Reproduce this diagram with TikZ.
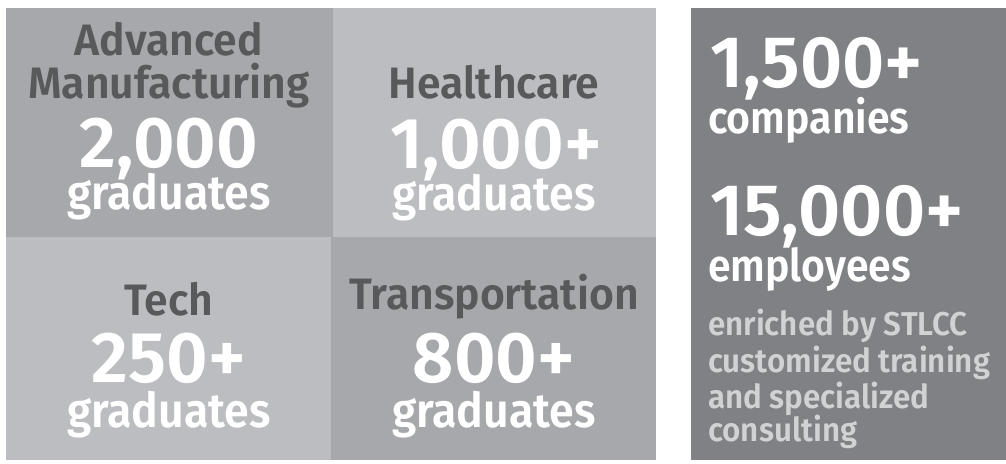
\documentclass[tikz,border=0pt]{standalone}
\usepackage{fontspec}
\setmainfont{Fira Sans}[BoldFont={Fira Sans SemiBold}]
\definecolor{cdark}{HTML}{A7A8AB}
\definecolor{clight}{HTML}{BCBDC0}
\definecolor{cpanel}{HTML}{808184}
\definecolor{ctext}{HTML}{58595B}
\definecolor{csmall}{HTML}{D1D2D4}
\begin{document}
\begin{tikzpicture}[x=1pt,y=1pt,
  lab/.style={anchor=base,inner sep=0pt,text=ctext,font=\bfseries\fontsize{44}{44}\selectfont\addfontfeature{FakeStretch=0.97}},
  num/.style={anchor=base,inner sep=0pt,text=white,font=\bfseries\fontsize{72}{72}\selectfont},
  grad/.style={anchor=base,inner sep=0pt,text=white,font=\bfseries\fontsize{48}{48}\selectfont\addfontfeature{FakeStretch=0.93}},
  rnum/.style={anchor=base west,inner sep=0pt,text=white,font=\bfseries\fontsize{73}{73}\selectfont},
  rword/.style={anchor=base west,inner sep=0pt,text=white,font=\bfseries\fontsize{45}{45}\selectfont\addfontfeature{FakeStretch=0.91}},
  rsmall/.style={anchor=base west,inner sep=0pt,text=csmall,font=\bfseries\fontsize{33}{33}\selectfont\addfontfeature{FakeStretch=0.95}}]
\useasboundingbox (0,0) rectangle (1006,-463);
\fill[white] (0,0) rectangle (1006,-463);
% quadrants
\fill[cdark]  (6,-8)   rectangle (333,-237);
\fill[clight] (333,-8) rectangle (656,-237);
\fill[clight] (6,-237) rectangle (331,-460);
\fill[cdark]  (331,-237) rectangle (656,-460);
\fill[cpanel] (691,-8) rectangle (1006,-460);
% top-left
\node[lab]  (tl1) at (169,-55)  {Advanced};
\node[lab]  (tl2) at (169,-98)  {Manufacturing};
\node[num]  (tl3) at (169,-167) {2,000};
\node[grad] (tl4) at (169,-209) {graduates};
% top-right
\node[lab]  (tr1) at (494,-98)  {Healthcare};
\node[num]  (tr2) at (496,-168) {1,000+};
\node[grad] (tr3) at (494,-210) {graduates};
% bottom-left
\node[lab]  (bl1) at (169,-315) {Tech};
\node[num]  (bl2) at (169,-382) {250+};
\node[grad] (bl3) at (169,-427) {graduates};
% bottom-right
\node[lab]  (br1) at (494,-309) {Transportation};
\node[num]  (br2) at (494,-382) {800+};
\node[grad] (br3) at (494,-427) {graduates};
% right panel
\node[rnum]  (r1) at (710,-87)  {1,500+};
\node[rword] (r2) at (708,-133) {companies};
\node[rnum]  (r3) at (710,-235) {15,000+};
\node[rword] (r4) at (708,-281) {employees};
\node[rsmall] (r5) at (708,-335) {enriched by STLCC};
\node[rsmall] (r6) at (708,-372) {customized training};
\node[rsmall] (r7) at (708,-408) {and specialized};
\node[rsmall] (r8) at (708,-441) {consulting};
\end{tikzpicture}
\end{document}
